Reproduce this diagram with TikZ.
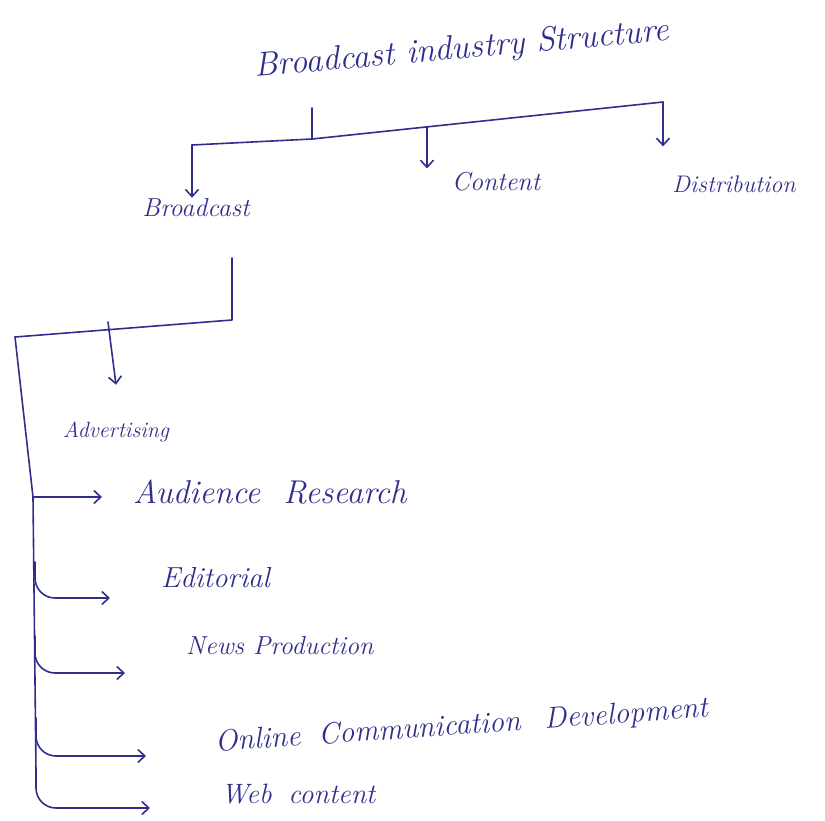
\documentclass[tikz,border=0pt]{standalone}
\usetikzlibrary{arrows.meta}
\definecolor{ink}{RGB}{48,46,140}
\tikzset{
  lbl/.style={text=ink, inner sep=1pt, font=\itshape\fontsize{#1}{#1}\selectfont},
  ln/.style={draw=ink, line width=1.6pt, line cap=round, line join=round},
  arr/.style={ln, -{Straight Barb[length=7pt,width=13pt]}},
  brc/.style={arr, rounded corners=20pt}
}
\begin{document}
\begin{tikzpicture}[x=1pt, y=-1pt]
\useasboundingbox (0,0) rectangle (825,820);
% top level
\node[lbl=34, rotate=5] (title) at (462,50) {Broadcast industry Structure};
\node[lbl=26] (bc) at (196,208) {Broadcast};
\node[lbl=26] (content) at (496,182) {Content};
\node[lbl=24] (dist) at (734,184) {Distribution};
\coordinate (stem) at (312,108);
\coordinate (tj) at (312,139);
\coordinate (tl) at (192,145);
\coordinate (tc) at (427,127);
\coordinate (tr) at (663,102);
\draw[ln] (stem) -- (tj);
\draw[ln] (tl) -- (tj) -- (tr);
\draw[arr] (tl) -- (tl |- bc.north);
\draw[arr] (tc) -- ([yshift=3pt]tc |- content.north);
\draw[arr] (tr) -- ([yshift=28pt]tr |- dist.north);
% broadcast branch
\coordinate (b1) at (232,258);
\coordinate (b2) at (232,320);
\coordinate (b3) at (15,337);
\coordinate (b4) at (108,322);
\node[lbl=22] (adv) at (116,432) {Advertising};
\draw[ln] (b1) -- (b2) -- (b3);
\draw[arr] (b4) -- ([yshift=36pt]adv.north);
% sub items
\node[lbl=33, anchor=west] (aud) at (132,492) {Audience\hspace{0.7em}Research};
\node[lbl=29, anchor=west] (edit) at (160,578) {Editorial};
\node[lbl=26, anchor=west] (news) at (185,646) {News Production};
\node[lbl=30, anchor=west, rotate=4] (online) at (214,744) {Online\hspace{0.6em}Communication\hspace{0.8em}Development};
\node[lbl=28, anchor=west] (web) at (220,794) {Web\hspace{0.6em}content};
\coordinate (s1) at (33,497);
\coordinate (s2) at (35,562);
\coordinate (s3) at (35,636);
\coordinate (s4) at (36,718);
\coordinate (s5) at (36,772);
\draw[ln] (b3) -- (s1) -- (s5);
\draw[arr, shorten >=30pt] (s1) -- (aud.west |- s1);
\draw[brc, shorten >=50pt] (s2) |- ([yshift=-20pt]edit.west);
\draw[brc, shorten >=60pt] (s3) |- ([yshift=-27pt]news.west);
\draw[brc, shorten >=68pt] (s4) |- ([yshift=-12pt]online.west);
\draw[brc, shorten >=70pt] (s5) |- ([yshift=-14pt]web.west);
\end{tikzpicture}
\end{document}
